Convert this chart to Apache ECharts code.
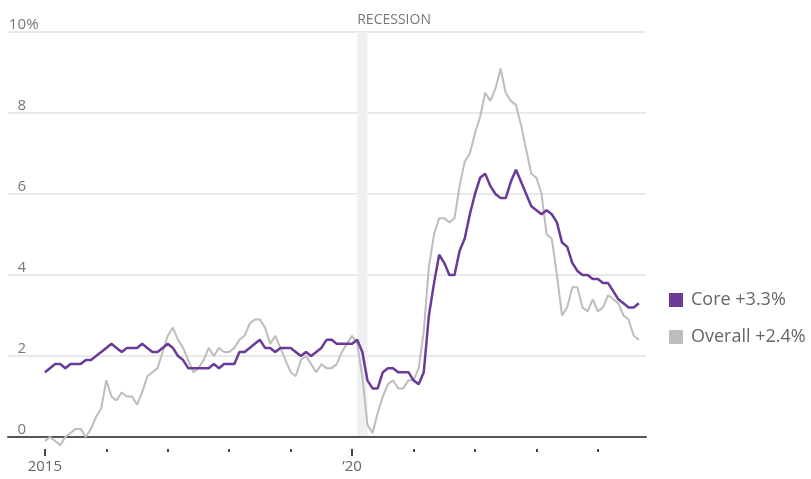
<!DOCTYPE html>
<html>
<head>
<meta charset="utf-8">
<title>Consumer prices</title>
<script src="https://cdn.jsdelivr.net/npm/echarts@6/dist/echarts.min.js"></script>
<style>
  html, body { margin: 0; padding: 0; background: #ffffff; }
  #chart { width: 811px; height: 479px; }
</style>
</head>
<body>
<div id="chart"></div>
<script>
// Year-over-year change in consumer prices, monthly, Jan 2015 – Sep 2024.
// Month index 0 = Jan 2015.
const coreValues = [
  1.6, 1.7, 1.8, 1.8, 1.7, 1.8, 1.8, 1.8, 1.9, 1.9, 2.0, 2.1,
  2.2, 2.3, 2.2, 2.1, 2.2, 2.2, 2.2, 2.3, 2.2, 2.1, 2.1, 2.2,
  2.3, 2.2, 2.0, 1.9, 1.7, 1.7, 1.7, 1.7, 1.7, 1.8, 1.7, 1.8,
  1.8, 1.8, 2.1, 2.1, 2.2, 2.3, 2.4, 2.2, 2.2, 2.1, 2.2, 2.2,
  2.2, 2.1, 2.0, 2.1, 2.0, 2.1, 2.2, 2.4, 2.4, 2.3, 2.3, 2.3,
  2.3, 2.4, 2.1, 1.4, 1.2, 1.2, 1.6, 1.7, 1.7, 1.6, 1.6, 1.6,
  1.4, 1.3, 1.6, 3.0, 3.8, 4.5, 4.3, 4.0, 4.0, 4.6, 4.9, 5.5,
  6.0, 6.4, 6.5, 6.2, 6.0, 5.9, 5.9, 6.3, 6.6, 6.3, 6.0, 5.7,
  5.6, 5.5, 5.6, 5.5, 5.3, 4.8, 4.7, 4.3, 4.1, 4.0, 4.0, 3.9,
  3.9, 3.8, 3.8, 3.6, 3.4, 3.3, 3.2, 3.2, 3.3
];
const overallValues = [
  -0.1, 0.0, -0.1, -0.2, 0.0, 0.1, 0.2, 0.2, 0.0, 0.2, 0.5, 0.7,
  1.4, 1.0, 0.9, 1.1, 1.0, 1.0, 0.8, 1.1, 1.5, 1.6, 1.7, 2.1,
  2.5, 2.7, 2.4, 2.2, 1.9, 1.6, 1.7, 1.9, 2.2, 2.0, 2.2, 2.1,
  2.1, 2.2, 2.4, 2.5, 2.8, 2.9, 2.9, 2.7, 2.3, 2.5, 2.2, 1.9,
  1.6, 1.5, 1.9, 2.0, 1.8, 1.6, 1.8, 1.7, 1.7, 1.8, 2.1, 2.3,
  2.5, 2.3, 1.5, 0.3, 0.1, 0.6, 1.0, 1.3, 1.4, 1.2, 1.2, 1.4,
  1.4, 1.7, 2.6, 4.2, 5.0, 5.4, 5.4, 5.3, 5.4, 6.2, 6.8, 7.0,
  7.5, 7.9, 8.5, 8.3, 8.6, 9.1, 8.5, 8.3, 8.2, 7.7, 7.1, 6.5,
  6.4, 6.0, 5.0, 4.9, 4.0, 3.0, 3.2, 3.7, 3.7, 3.2, 3.1, 3.4,
  3.1, 3.2, 3.5, 3.4, 3.3, 3.0, 2.9, 2.5, 2.4
];
const seriesNames = ['Core +3.3%', 'Overall +2.4%'];

// Year ticks (month index of each January) and the two labelled years
const yearTicks = [0, 12, 24, 36, 48, 60, 72, 84, 96, 108];
const labelledYears = [0, 60];
const yearLabels = ['2015', '\u201920'];

// Value-axis ticks and labels
const yTicks = [0, 2, 4, 6, 8, 10];
const yLabels = ['0', '2', '4', '6', '8', '10'];

// Recession shading (Feb 2020 – Apr 2020)
const recession = [61, 63];
const recessionLabel = 'RECESSION';

const FONT = 'Open Sans';
const toPairs = arr => arr.map((v, i) => [i, v]);

const xMin = -7.2, xMax = 117.4;

const chart = echarts.init(document.getElementById('chart'), null, { renderer: 'canvas' });

const tickAxis = (values, len) => ({
  type: 'value', min: xMin, max: xMax, position: 'bottom', offset: 12,
  axisLine: { show: false },
  axisTick: { show: true, customValues: values, length: len, lineStyle: { color: '#444', width: 2 } },
  axisLabel: { show: false },
  splitLine: { show: false }
});

chart.setOption({
  animation: false,
  backgroundColor: '#ffffff',
  grid: { left: 8, right: 165, top: 32, bottom: 42, containLabel: false },
  legend: {
    orient: 'vertical',
    left: 664,
    top: 286,
    icon: 'rect',
    itemWidth: 14,
    itemHeight: 14,
    itemGap: 19,
    textStyle: { fontFamily: FONT, fontSize: 18, color: '#666', padding: [0, 0, 0, 3] },
    data: seriesNames
  },
  xAxis: [
    {
      type: 'value', min: xMin, max: xMax,
      axisLine: { show: true, lineStyle: { color: '#555', width: 2 } },
      axisTick: { show: false },
      axisLabel: {
        show: true,
        customValues: labelledYears,
        margin: 22,
        fontFamily: FONT, fontSize: 15, color: '#666',
        formatter: v => yearLabels[labelledYears.indexOf(Math.round(v))] || ''
      },
      splitLine: { show: false }
    },
    tickAxis(yearTicks, 3),
    tickAxis(labelledYears, 7)
  ],
  yAxis: {
    type: 'value', min: 0, max: 10, interval: 2,
    axisLine: { show: false },
    axisTick: { show: false },
    splitLine: { show: true, lineStyle: { color: '#e9e9e9', width: 2 } },
    axisLabel: {
      inside: true,
      align: 'right',
      verticalAlign: 'bottom',
      margin: 31,
      color: '#777',
      fontFamily: FONT,
      fontSize: 15,
      formatter: v => {
        const i = yTicks.indexOf(v);
        const txt = i >= 0 ? yLabels[i] : '';
        return '{n|' + txt + '}{p|' + (v === 10 ? '%' : '') + '}';
      },
      rich: {
        n: { fontFamily: FONT, fontSize: 15, color: '#777' },
        p: { fontFamily: FONT, fontSize: 15, color: '#777', width: 13, align: 'left' }
      }
    }
  },
  series: [
    {
      // carries only the recession band, drawn beneath both lines
      name: 'recession',
      type: 'line',
      xAxisIndex: 0,
      data: [],
      clip: false,
      z: 0,
      markArea: {
        silent: true,
        z: 0,
        itemStyle: { color: '#eef0f2' },
        label: {
          show: true,
          position: [0, -19],
          color: '#777',
          fontFamily: FONT,
          fontSize: 14
        },
        data: [[
          { name: recessionLabel, xAxis: recession[0], yAxis: 10 },
          { xAxis: recession[1], yAxis: -0.3 }
        ]]
      }
    },
    {
      name: seriesNames[1],
      type: 'line',
      xAxisIndex: 0,
      data: toPairs(overallValues),
      showSymbol: false,
      symbol: 'none',
      clip: false,
      z: 2,
      itemStyle: { color: '#bdbdbd' },
      lineStyle: { color: '#bdbdbd', width: 2 }
    },
    {
      name: seriesNames[0],
      type: 'line',
      xAxisIndex: 0,
      data: toPairs(coreValues),
      showSymbol: false,
      symbol: 'none',
      clip: false,
      z: 3,
      itemStyle: { color: '#6a3a97' },
      lineStyle: { color: '#6a3a97', width: 2.5 }
    }
  ]
});
</script>
</body>
</html>
